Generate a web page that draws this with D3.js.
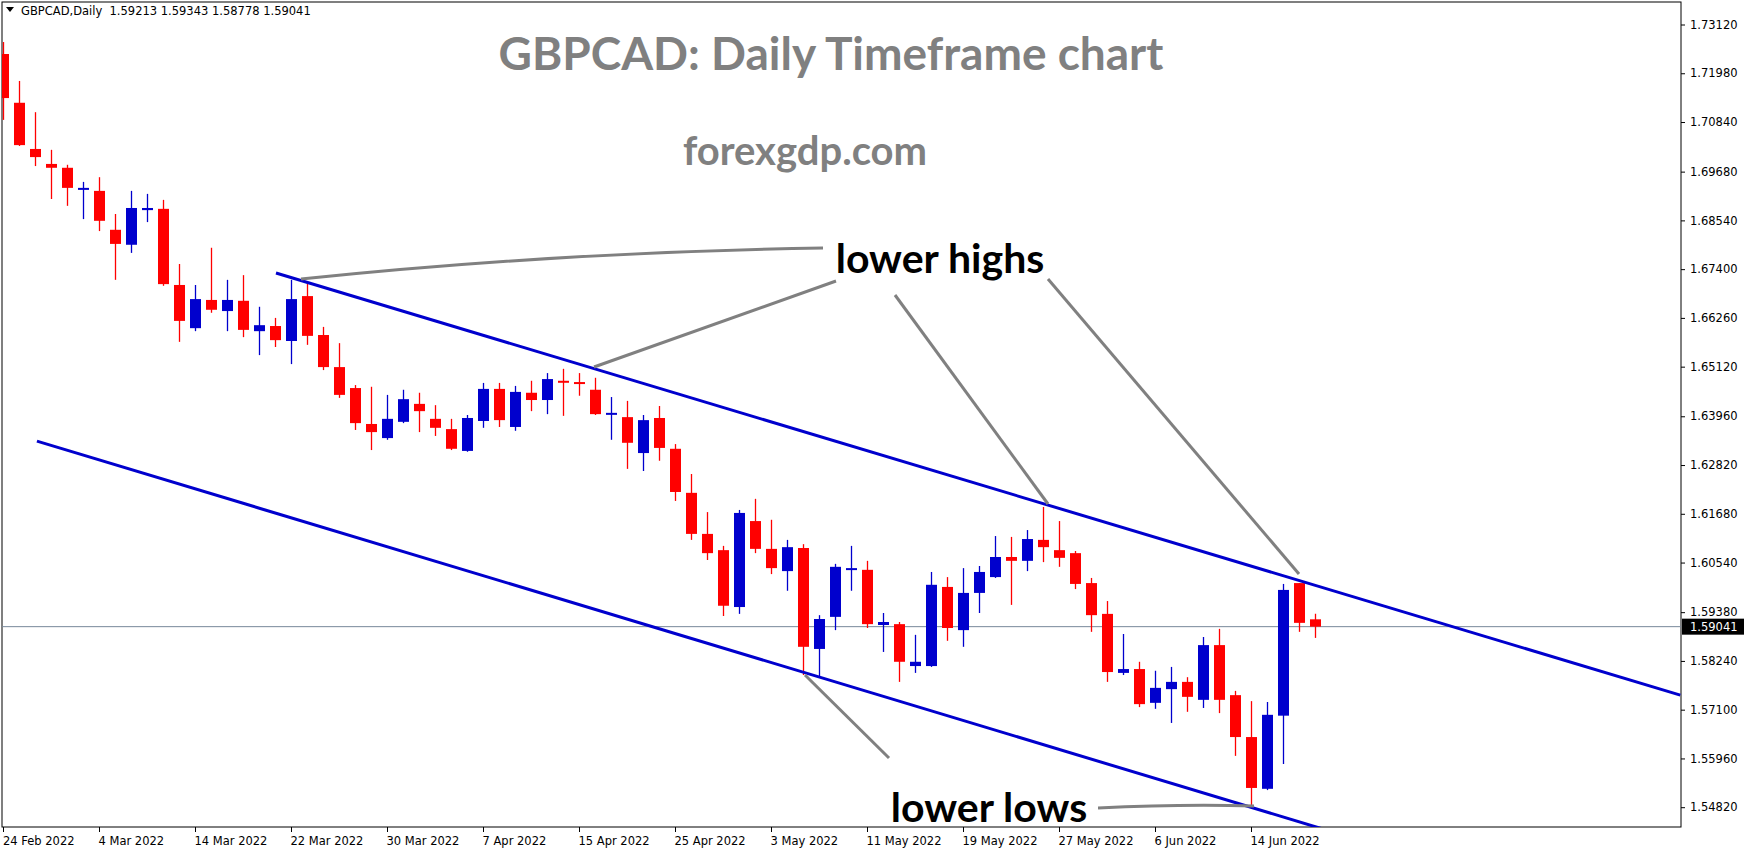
<!DOCTYPE html>
<html>
<head>
<meta charset="utf-8">
<script src="https://cdn.jsdelivr.net/npm/d3@7"></script>
<style>
  body { margin: 0; background: #fff; }
  svg { display: block; }
</style>
</head>
<body>
<svg id="chart" width="1746" height="850"></svg>
<script>
// daily candles, 24 Feb 2022 .. 20 Jun 2022
var opens  = [1.7243,1.7129,1.7021,1.6986,1.6977,1.6929,1.6923,1.6832,1.6797,1.6878,1.6881,1.6703,1.6602,1.6668,1.6642,1.6666,1.6595,1.6607,1.6572,1.6677,
              1.6586,1.6511,1.6462,1.6378,1.6345,1.6383,1.6425,1.6390,1.6366,1.6315,1.6385,1.6460,1.6371,1.6451,1.6434,1.6479,1.6476,1.6458,1.6401,1.6394,
              1.6310,1.6392,1.6320,1.6217,1.6121,1.6083,1.5950,1.6151,1.6086,1.6034,1.6088,1.5852,1.5927,1.6037,1.6037,1.5908,1.5910,1.5812,1.5812,1.5997,
              1.5896,1.5983,1.6020,1.6067,1.6058,1.6107,1.6083,1.6076,1.6006,1.5934,1.5796,1.5805,1.5726,1.5758,1.5775,1.5733,1.5861,1.5744,1.5646,1.5525,
              1.5696,1.6006,1.59213];
var highs  = [1.7271,1.7180,1.7107,1.7019,1.6984,1.6944,1.6955,1.6869,1.6923,1.6916,1.6902,1.6752,1.6703,1.6790,1.6715,1.6726,1.6652,1.6626,1.6715,1.6710,
              1.6605,1.6567,1.6469,1.6465,1.6446,1.6458,1.6451,1.6422,1.6390,1.6399,1.6474,1.6474,1.6467,1.6479,1.6497,1.6507,1.6497,1.6486,1.6441,1.6432,
              1.6399,1.6420,1.6331,1.6261,1.6172,1.6093,1.6177,1.6203,1.6154,1.6107,1.6097,1.5931,1.6051,1.6093,1.6058,1.5936,1.5915,1.5885,1.6032,1.6020,
              1.6041,1.6046,1.6116,1.6114,1.6130,1.6184,1.6151,1.6081,1.6018,1.5964,1.5887,1.5822,1.5801,1.5810,1.5786,1.5880,1.5899,1.5754,1.5730,1.5728,
              1.6004,1.6006,1.59343];
var lows   = [1.7089,1.7028,1.6981,1.6904,1.6888,1.6857,1.6829,1.6715,1.6778,1.6850,1.6701,1.6570,1.6595,1.6638,1.6595,1.6581,1.6539,1.6558,1.6518,1.6563,
              1.6504,1.6439,1.6364,1.6317,1.6341,1.6380,1.6359,1.6350,1.6317,1.6313,1.6369,1.6371,1.6362,1.6408,1.6401,1.6397,1.6444,1.6399,1.6341,1.6273,
              1.6268,1.6292,1.6198,1.6107,1.6060,1.5929,1.5934,1.6076,1.6027,1.5988,1.5791,1.5786,1.5896,1.5988,1.5901,1.5845,1.5775,1.5796,1.5810,1.5871,
              1.5857,1.5936,1.6018,1.5955,1.6034,1.6055,1.6044,1.5992,1.5892,1.5775,1.5791,1.5716,1.5712,1.5679,1.5705,1.5714,1.5702,1.5602,1.5483,1.5522,
              1.5583,1.5892,1.58778];
var closes = [1.7140,1.7030,1.7002,1.6977,1.6930,1.6930,1.6853,1.6799,1.6883,1.6883,1.6705,1.6619,1.6670,1.6645,1.6668,1.6598,1.6609,1.6574,1.6670,1.6584,
              1.6511,1.6446,1.6380,1.6359,1.6390,1.6436,1.6408,1.6369,1.6320,1.6392,1.6460,1.6387,1.6453,1.6434,1.6483,1.6476,1.6474,1.6401,1.6404,1.6334,
              1.6387,1.6322,1.6219,1.6121,1.6076,1.5953,1.6170,1.6086,1.6041,1.6090,1.5857,1.5922,1.6044,1.6041,1.5910,1.5915,1.5822,1.5822,1.6002,1.5901,
              1.5983,1.6032,1.6067,1.6058,1.6109,1.6090,1.6065,1.6004,1.5931,1.5798,1.5805,1.5723,1.5761,1.5775,1.5740,1.5861,1.5733,1.5646,1.5527,1.5698,
              1.5990,1.5913,1.59041];

var priceTicks = [1.73120,1.71980,1.70840,1.69680,1.68540,1.67400,1.66260,1.65120,1.63960,1.62820,1.61680,1.60540,1.59380,1.58240,1.57100,1.55960,1.54820];
var dateIdx    = [0,6,12,18,24,30,36,42,48,54,60,66,72,78];
var dateLabels = ["24 Feb 2022","4 Mar 2022","14 Mar 2022","22 Mar 2022","30 Mar 2022","7 Apr 2022","15 Apr 2022",
                  "25 Apr 2022","3 May 2022","11 May 2022","19 May 2022","27 May 2022","6 Jun 2022","14 Jun 2022"];

// channel lines as [bar index, price] pairs
var upperLine = [[17.03,1.6731],[104.8,1.5744]];
var lowerLine = [[2.09,1.6338],[104.8,1.5179]];
var lastPrice = 1.59041;

var svg = d3.select("#chart");
var pL = 2, pR = 1681, pT = 2, pB = 827;

var x = d3.scaleLinear().domain([0, 1]).range([3.5, 19.5]);
var y = d3.scaleLinear().domain([1.7312, 1.5482]).range([24.5, 807.2]);

svg.append("defs").append("clipPath").attr("id", "plot")
  .append("rect").attr("x", pL).attr("y", pT).attr("width", pR - pL).attr("height", pB - pT);

// frame
svg.append("rect").attr("x", pL).attr("y", pT).attr("width", pR - pL).attr("height", pB - pT)
  .attr("fill", "none").attr("stroke", "#000").attr("stroke-width", 1);

var plot = svg.append("g").attr("clip-path", "url(#plot)");

// current price line
plot.append("line").attr("x1", pL).attr("x2", pR)
  .attr("y1", y(lastPrice)).attr("y2", y(lastPrice))
  .attr("stroke", "#778899").attr("stroke-width", 1);

// candles
var idx = d3.range(opens.length);
var bw = 11;
var g = plot.selectAll("g.c").data(idx).enter().append("g").attr("class", "c");
g.append("line")
  .attr("x1", function (i) { return x(i); }).attr("x2", function (i) { return x(i); })
  .attr("y1", function (i) { return y(highs[i]); }).attr("y2", function (i) { return y(lows[i]); })
  .attr("stroke", function (i) { return closes[i] >= opens[i] ? "#0000cd" : "#ff0000"; })
  .attr("stroke-width", 1.3);
g.append("rect")
  .attr("x", function (i) { return x(i) - bw / 2; })
  .attr("width", bw)
  .attr("y", function (i) { return y(Math.max(opens[i], closes[i])); })
  .attr("height", function (i) { return Math.max(2, Math.abs(y(opens[i]) - y(closes[i]))); })
  .attr("fill", function (i) { return closes[i] >= opens[i] ? "#0000cd" : "#ff0000"; });

// channel
var chLine = d3.line().x(function (d) { return x(d[0]); }).y(function (d) { return y(d[1]); });
[upperLine, lowerLine].forEach(function (l) {
  plot.append("path").attr("d", chLine(l)).attr("fill", "none")
    .attr("stroke", "#0000cd").attr("stroke-width", 3);
});

// annotation pointers
var grey = "#808080";
function pointer(d) {
  plot.append("path").attr("d", d).attr("fill", "none").attr("stroke", grey).attr("stroke-width", 3);
}
pointer("M301,279 Q560,252 823,248");
pointer("M594,367 L836,281");
pointer("M895,295 L1048,504");
pointer("M1048,279 L1299,574");
pointer("M805,675 L889,758");
pointer("M1098,808 Q1180,804 1254,806");

var bold = "Lato, 'Open Sans', sans-serif";
svg.append("text").attr("x", 940).attr("y", 273).attr("text-anchor", "middle")
  .attr("font-family", bold).attr("font-weight", 700).attr("font-size", 41)
  .attr("fill", "#000").text("lower highs");
svg.append("text").attr("x", 989).attr("y", 822).attr("text-anchor", "middle")
  .attr("font-family", bold).attr("font-weight", 700).attr("font-size", 41)
  .attr("fill", "#000").text("lower lows");

// titles
svg.append("text").attr("x", 831).attr("y", 70).attr("text-anchor", "middle")
  .attr("font-family", bold).attr("font-weight", 700).attr("font-size", 46)
  .attr("fill", grey).text("GBPCAD: Daily Timeframe chart");
svg.append("text").attr("x", 805).attr("y", 165).attr("text-anchor", "middle")
  .attr("font-family", bold).attr("font-weight", 700).attr("font-size", 40)
  .attr("fill", grey).text("forexgdp.com");

// header
svg.append("path").attr("d", "M6,7 L14,7 L10,12 Z").attr("fill", "#000");
svg.append("text").attr("x", 21).attr("y", 15)
  .attr("font-family", "'DejaVu Sans', sans-serif").attr("font-size", 11.5).attr("fill", "#000")
  .attr("xml:space", "preserve")
  .text("GBPCAD,Daily  " + [opens[82], highs[82], lows[82], closes[82]].map(function (v) { return v.toFixed(5); }).join(" "));

// price axis
var yAxis = d3.axisRight(y).tickValues(priceTicks).tickSize(4)
  .tickFormat(function (d) { return d.toFixed(5); });
var ya = svg.append("g").attr("transform", "translate(" + pR + ",0)").call(yAxis);
ya.select(".domain").remove();
ya.selectAll("text").attr("font-family", "'DejaVu Sans', sans-serif").attr("font-size", 11.5).attr("x", 9);

svg.append("rect").attr("x", pR + 1).attr("y", y(lastPrice) - 8).attr("width", 62).attr("height", 16).attr("fill", "#000");
svg.append("text").attr("x", pR + 9).attr("y", y(lastPrice) + 4.5)
  .attr("font-family", "'DejaVu Sans', sans-serif").attr("font-size", 11.5).attr("fill", "#fff")
  .text(lastPrice.toFixed(5));

// date axis
var xa = svg.append("g").attr("transform", "translate(0," + pB + ")");
xa.selectAll("line").data(dateIdx).enter().append("line")
  .attr("x1", function (i) { return x(i); }).attr("x2", function (i) { return x(i); })
  .attr("y1", 0).attr("y2", 5).attr("stroke", "#000");
xa.selectAll("text").data(dateIdx).enter().append("text")
  .attr("x", function (i, k) { return k === 0 ? 3 : x(i) - 1; }).attr("y", 18)
  .attr("font-family", "'DejaVu Sans', sans-serif").attr("font-size", 11.5).attr("fill", "#000")
  .text(function (i, k) { return dateLabels[k]; });
</script>
</body>
</html>
